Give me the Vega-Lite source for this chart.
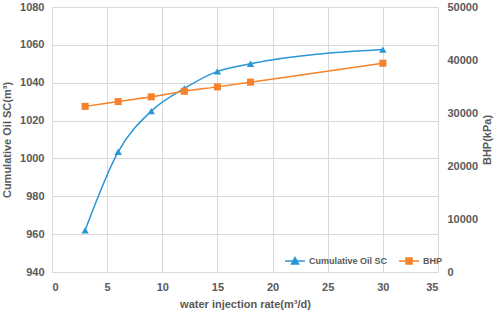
{
  "$schema": "https://vega.github.io/schema/vega-lite/v6.json",
  "autosize": {"type": "none"},
  "padding": {"left": 52, "top": 7, "right": 60, "bottom": 38},
  "width": 386,
  "height": 265,
  "background": "white",
  "config": {
    "view": {"stroke": null},
    "font": "Liberation Sans",
    "axis": {
      "labelFont": "Liberation Sans", "labelFontWeight": "bold", "labelFontSize": 11, "labelColor": "#595959",
      "titleFont": "Liberation Sans", "titleFontWeight": "bold", "titleFontSize": 11, "titleColor": "#595959",
      "gridColor": "#d9d9d9", "gridWidth": 1, "ticks": false, "domain": false
    },
    "legend": {"labelFont": "Liberation Sans", "labelFontWeight": "bold", "labelFontSize": 9, "labelColor": "#595959"}
  },
  "data": {"values": [
    {"x": 3, "series": "Cumulative Oil SC", "value": 962},
    {"x": 6, "series": "Cumulative Oil SC", "value": 1003.5},
    {"x": 9, "series": "Cumulative Oil SC", "value": 1025},
    {"x": 12, "series": "Cumulative Oil SC", "value": 1037},
    {"x": 15, "series": "Cumulative Oil SC", "value": 1046},
    {"x": 18, "series": "Cumulative Oil SC", "value": 1050},
    {"x": 30, "series": "Cumulative Oil SC", "value": 1057.5},
    {"x": 3, "series": "BHP", "value": 31250},
    {"x": 6, "series": "BHP", "value": 32150},
    {"x": 9, "series": "BHP", "value": 33050},
    {"x": 12, "series": "BHP", "value": 34100},
    {"x": 15, "series": "BHP", "value": 34930},
    {"x": 18, "series": "BHP", "value": 35820},
    {"x": 30, "series": "BHP", "value": 39390}
  ]},
  "encoding": {
    "x": {
      "field": "x", "type": "quantitative",
      "scale": {"domain": [0, 35], "nice": false, "zero": false},
      "axis": {"values": [0, 5, 10, 15, 20, 25, 30, 35], "format": "d", "title": "water injection rate(m³/d)", "labelPadding": 9, "titlePadding": 6, "domain": true, "domainColor": "#d9d9d9"}
    },
    "color": {
      "field": "series", "type": "nominal",
      "scale": {"domain": ["Cumulative Oil SC", "BHP"], "range": ["#2a96d6", "#f6822b"]},
      "legend": {
        "title": null, "orient": "none", "legendX": 232, "legendY": 243, "direction": "horizontal",
        "symbolSize": 400, "symbolStrokeWidth": 1.5, "columnPadding": 8, "labelOffset": 3, "padding": 0,
        "encode": {"symbols": {"update": {
          "shape": {"signal": "datum.value === 'BHP' ? 'M-1,0H1M-0.3,-0.3H0.3V0.3H-0.3Z' : 'M-1,0H1M0,-0.35L0.35,0.3H-0.35Z'"},
          "strokeWidth": {"value": 1.5}
        }}}
      }
    }
  },
  "layer": [
    {
      "transform": [{"filter": "datum.series === 'Cumulative Oil SC'"}],
      "encoding": {
        "y": {
          "field": "value", "type": "quantitative",
          "scale": {"domain": [940, 1080], "nice": false, "zero": false},
          "axis": {"orient": "left", "values": [940, 960, 980, 1000, 1020, 1040, 1060, 1080], "format": "d", "title": "Cumulative Oil SC(m³)", "labelPadding": 8, "titlePadding": 7, "grid": true}
        }
      },
      "layer": [
        {"mark": {"type": "line", "interpolate": "monotone", "strokeWidth": 1.5}},
        {"mark": {"type": "point", "shape": "triangle-up", "filled": true, "size": 55, "opacity": 1}}
      ]
    },
    {
      "transform": [{"filter": "datum.series === 'BHP'"}],
      "encoding": {
        "y": {
          "field": "value", "type": "quantitative",
          "scale": {"domain": [0, 50000], "nice": false},
          "axis": {"orient": "right", "values": [0, 10000, 20000, 30000, 40000, 50000], "format": "d", "title": "BHP(kPa)", "titleAngle": -90, "titleBaseline": "top", "titlePadding": 4, "labelPadding": 9, "grid": false}
        }
      },
      "layer": [
        {"mark": {"type": "line", "interpolate": "monotone", "strokeWidth": 1.5}},
        {"mark": {"type": "point", "shape": "square", "filled": true, "size": 50, "opacity": 1}}
      ]
    }
  ],
  "resolve": {"scale": {"y": "independent"}}
}
